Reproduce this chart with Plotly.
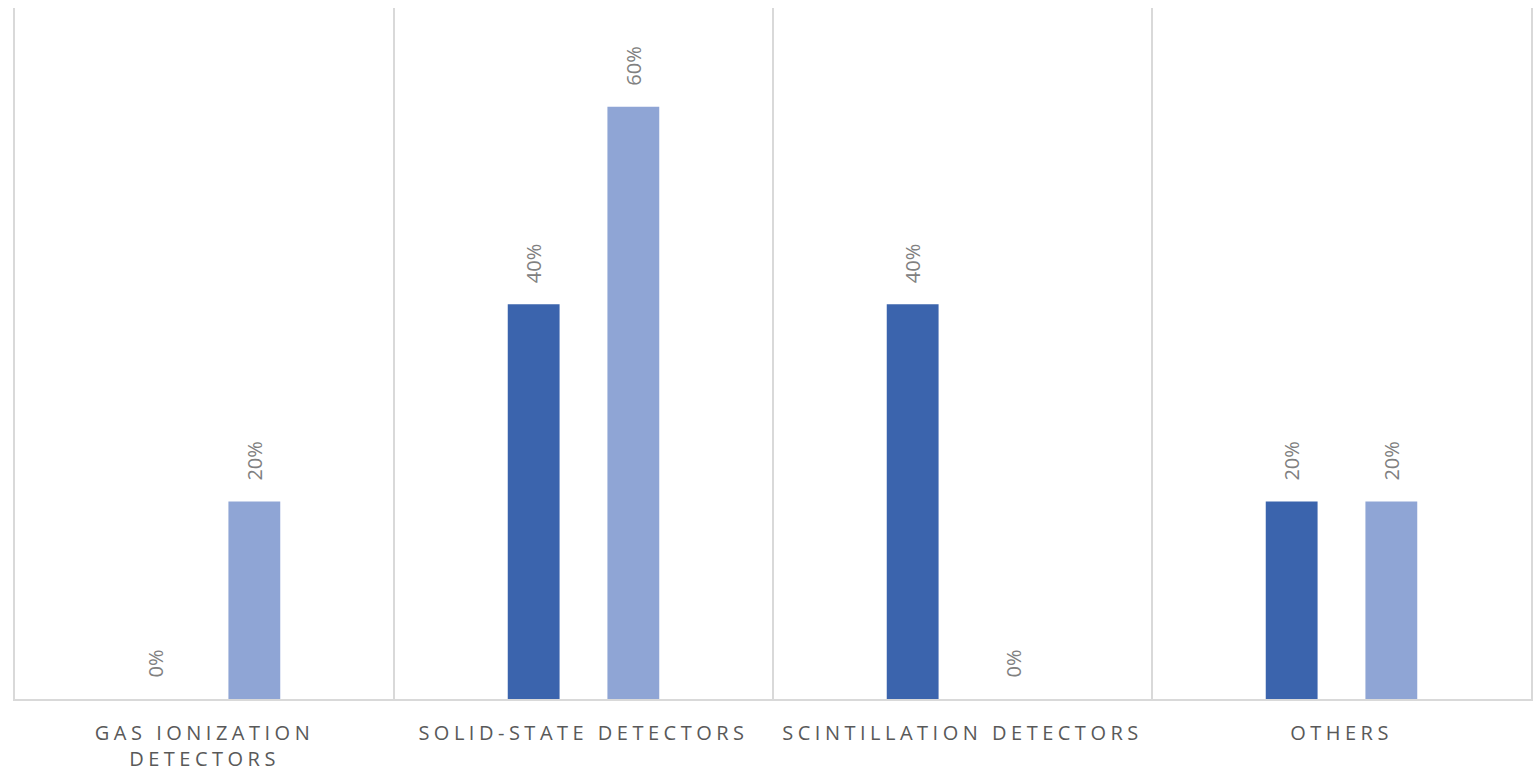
import plotly.graph_objects as go

categories = ["GAS IONIZATION<br>DETECTORS", "SOLID-STATE DETECTORS",
              "SCINTILLATION DETECTORS", "OTHERS"]
series_a = [0.0, 0.40, 0.40, 0.20]
series_b = [0.20, 0.60, 0.0, 0.20]

dark_blue = "#3b64ad"
light_blue = "#8fa5d5"
label_color = "#808080"
axis_text = "#595959"
rule_color = "#d9d9d9"

fig = go.Figure()
fig.add_bar(x=categories, y=series_a, marker_color=dark_blue, marker_line_width=0,
            name="A", hoverinfo="skip")
fig.add_bar(x=categories, y=series_b, marker_color=light_blue, marker_line_width=0,
            name="B", hoverinfo="skip")

# rotated value labels above each bar
for vals, shift in ((series_a, -50), (series_b, 50)):
    for cat, v in zip(categories, vals):
        fig.add_annotation(x=cat, y=v, xref="x", yref="y", xshift=shift, yshift=19,
                           text=f"{v:.0%}", textangle=-90, showarrow=False,
                           yanchor="bottom", xanchor="center",
                           font=dict(family="Open Sans", size=20, color=label_color))

fig.update_layout(
    width=1536, height=778,
    margin=dict(l=15, r=3, t=8, b=79),
    plot_bgcolor="white", paper_bgcolor="white",
    barmode="group", bargap=0.474, bargroupgap=0.48,
    showlegend=False,
    font=dict(family="Open Sans", color=axis_text),
)
fig.update_xaxes(
    tickson="boundaries", showgrid=True, gridcolor=rule_color, gridwidth=2,
    showline=True, linecolor=rule_color, linewidth=2,
    ticks="", ticklabelstandoff=15,
    tickfont=dict(family="Open Sans", size=20, color=axis_text),
)
fig.update_yaxes(range=[0, 0.7], showticklabels=False, ticks="", showgrid=False,
                 zeroline=False, showline=True, mirror=True,
                 linecolor=rule_color, linewidth=2)

fig.write_html(
    "out.html",
    post_script="document.querySelectorAll('.xtick text').forEach(function(t){t.style.letterSpacing='4.5px';});",
)
